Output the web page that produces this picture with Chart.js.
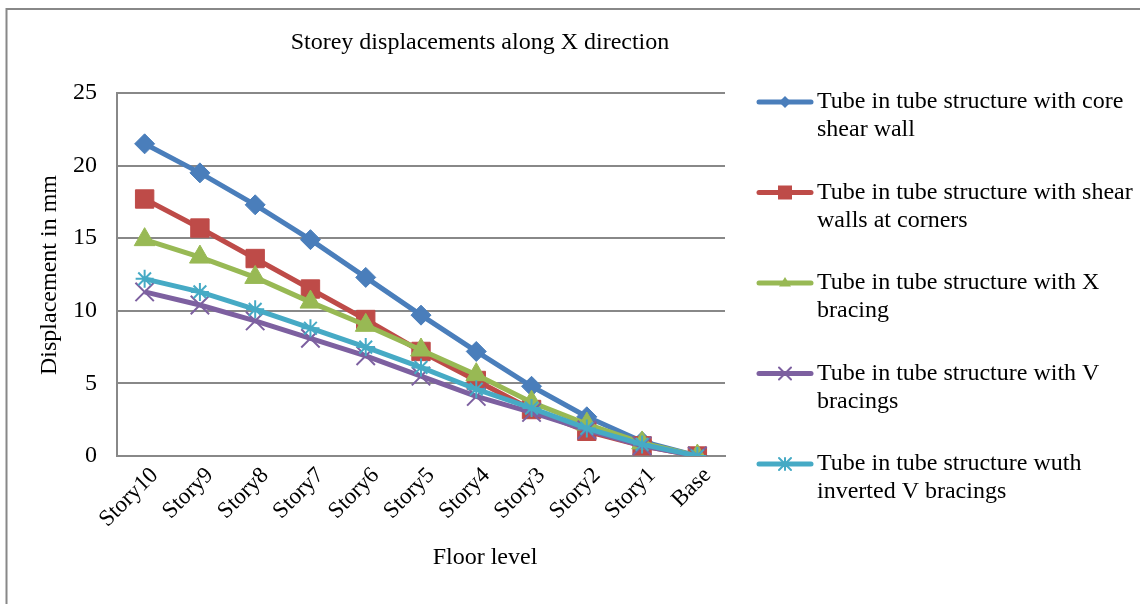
<!DOCTYPE html>
<html>
<head>
<meta charset="utf-8">
<script src="https://cdn.jsdelivr.net/npm/chart.js@4/dist/chart.umd.min.js"></script>
<style>
  html, body { margin: 0; padding: 0; background: #ffffff; }
  #wrap { width: 1140px; height: 604px; position: relative; }
</style>
</head>
<body>
<div id="wrap"><canvas id="c" width="1140" height="604"></canvas></div>
<script>
// Floor levels, top of building first
const floors = ['Story10', 'Story9', 'Story8', 'Story7', 'Story6', 'Story5', 'Story4', 'Story3', 'Story2', 'Story1', 'Base'];

// Storey displacement (mm) for each structural system
const coreShearWall     = [21.5, 19.5, 17.3, 14.9, 12.3, 9.7, 7.2, 4.8, 2.7, 1.0, 0];
const cornerShearWalls  = [17.7, 15.7, 13.6, 11.5, 9.4, 7.2, 5.2, 3.2, 1.7, 0.7, 0];
const xBracing          = [14.9, 13.7, 12.3, 10.6, 9.0, 7.3, 5.6, 3.7, 2.2, 0.9, 0];
const vBracing          = [11.3, 10.4, 9.3, 8.1, 6.9, 5.5, 4.1, 3.0, 1.8, 0.7, 0];
const invertedVBracing  = [12.2, 11.3, 10.1, 8.8, 7.5, 6.1, 4.6, 3.3, 1.9, 0.8, 0];

const seriesNames = [
  ['Tube in tube structure with core', 'shear wall'],
  ['Tube in tube structure with shear', 'walls at corners'],
  ['Tube in tube structure with X', 'bracing'],
  ['Tube in tube structure with V', 'bracings'],
  ['Tube in tube structure wuth', 'inverted V bracings']
];

const yTicks = [0, 5, 10, 15, 20, 25];

const FONT = '"Liberation Serif", "Times New Roman", serif';
const colors = ['#4a7ebb', '#be4b48', '#98b954', '#7d60a0', '#46aac5'];
const markers = ['rectRot', 'rect', 'triangle', 'crossRot', 'star'];
const radii = [10, 13, 12, 13, 9];
const values = [coreShearWall, cornerShearWalls, xBracing, vBracing, invertedVBracing];

// later series are painted over earlier ones
const datasets = values.map((v, i) => ({
  label: seriesNames[i].join(' '),
  data: v,
  order: values.length - i,
  borderColor: colors[i],
  backgroundColor: colors[i],
  borderWidth: 5,
  pointStyle: markers[i],
  pointRadius: radii[i],
  pointHoverRadius: radii[i],
  pointBorderColor: colors[i],
  pointBackgroundColor: colors[i],
  pointBorderWidth: (markers[i] === 'crossRot' || markers[i] === 'star') ? 2 : 1,
  tension: 0,
  fill: false
}));

// Marker used in the legend keys
function drawMarker(ctx, style, x, y, r, color) {
  ctx.save();
  ctx.fillStyle = color;
  ctx.strokeStyle = color;
  ctx.lineWidth = 2;
  ctx.beginPath();
  if (style === 'rectRot') {
    ctx.moveTo(x, y - r); ctx.lineTo(x + r, y); ctx.lineTo(x, y + r); ctx.lineTo(x - r, y); ctx.closePath(); ctx.fill();
  } else if (style === 'rect') {
    ctx.rect(x - r, y - r, 2 * r, 2 * r); ctx.fill();
  } else if (style === 'triangle') {
    ctx.moveTo(x, y - r); ctx.lineTo(x + r, y + r * 0.6); ctx.lineTo(x - r, y + r * 0.6); ctx.closePath(); ctx.fill();
  } else if (style === 'crossRot') {
    ctx.moveTo(x - r, y - r); ctx.lineTo(x + r, y + r); ctx.moveTo(x + r, y - r); ctx.lineTo(x - r, y + r); ctx.stroke();
  } else if (style === 'star') {
    ctx.moveTo(x - r, y - r); ctx.lineTo(x + r, y + r); ctx.moveTo(x + r, y - r); ctx.lineTo(x - r, y + r);
    ctx.moveTo(x, y - r); ctx.lineTo(x, y + r); ctx.stroke();
  }
  ctx.restore();
}

const decorations = {
  id: 'decorations',
  afterDraw(chart) {
    const ctx = chart.ctx;
    ctx.save();
    // outer frame
    ctx.strokeStyle = '#888888';
    ctx.lineWidth = 2;
    ctx.beginPath();
    ctx.moveTo(6.5, 604); ctx.lineTo(6.5, 9); ctx.lineTo(1140, 9);
    ctx.stroke();

    ctx.fillStyle = '#000000';
    ctx.textAlign = 'center';
    ctx.textBaseline = 'middle';
    // chart title
    ctx.font = '24px ' + FONT;
    ctx.fillText('Storey displacements along X direction', 480, 43);
    // axis titles
    ctx.fillText('Floor level', 485, 558);
    ctx.save();
    ctx.translate(50, 275);
    ctx.rotate(-Math.PI / 2);
    ctx.fillText('Displacement in mm', 0, 0);
    ctx.restore();

    // legend
    const top = 102, step = 90.5, lineGap = 28;
    ctx.textAlign = 'left';
    ctx.font = '24px ' + FONT;
    seriesNames.forEach((lines, i) => {
      const y = top + i * step;
      ctx.strokeStyle = colors[i];
      ctx.lineWidth = 5;
      ctx.lineCap = 'round';
      ctx.beginPath();
      ctx.moveTo(759, y); ctx.lineTo(811, y);
      ctx.stroke();
      drawMarker(ctx, markers[i], 785, y, markers[i] === 'rect' ? 7 : 6, colors[i]);
      ctx.fillStyle = '#000000';
      ctx.fillText(lines[0], 817, y);
      ctx.fillText(lines[1], 817, y + lineGap);
    });
    ctx.restore();
  }
};

new Chart(document.getElementById('c'), {
  type: 'line',
  data: { labels: floors, datasets },
  plugins: [decorations],
  options: {
    responsive: false,
    animation: false,
    devicePixelRatio: 1,
    layout: { padding: { left: 8, top: 93, right: 415, bottom: 0 } },
    plugins: {
      legend: { display: false },
      title: { display: false },
      tooltip: { enabled: false }
    },
    scales: {
      x: {
        offset: true,
        grid: { display: false, drawTicks: false },
        border: { display: true, color: '#888888', width: 2 },
        ticks: {
          color: '#000000',
          font: { family: FONT, size: 23 },
          maxRotation: 45,
          minRotation: 45,
          padding: 6,
          labelOffset: 10,
          autoSkip: false
        },
        afterFit(scale) { scale.height = 604 - 456; }
      },
      y: {
        min: 0,
        max: 25,
        afterBuildTicks(scale) { scale.ticks = yTicks.map(v => ({ value: v })); },
        grid: { color: '#888888', lineWidth: 2, drawTicks: false },
        border: { display: true, color: '#888888', width: 2 },
        ticks: {
          color: '#000000',
          font: { family: FONT, size: 24 },
          padding: 20
        },
        afterFit(scale) { scale.width = 117 - 8; }
      }
    }
  }
});
</script>
</body>
</html>
